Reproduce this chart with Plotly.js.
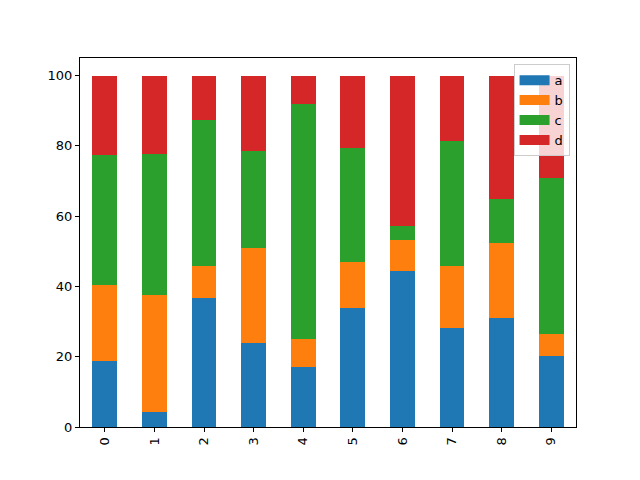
<!DOCTYPE html>
<html>
<head>
<meta charset="utf-8">
<script src="https://cdn.plot.ly/plotly-3.0.1.min.js"></script>
<style>html,body{margin:0;padding:0;background:#fff;}#chart{width:640px;height:480px;}</style>
</head>
<body>
<div id="chart"></div>
<script>
const categories = ['0','1','2','3','4','5','6','7','8','9'];
const seriesA = [18.75, 4.36, 36.74, 23.86, 17.05, 33.90, 44.41, 28.22, 31.06, 20.27];
const seriesB = [21.59, 33.14, 9.00, 27.09, 7.95, 13.07, 8.81, 17.61, 21.31, 6.25];
const seriesC = [36.93, 40.15, 41.57, 27.46, 66.86, 32.39, 3.98, 35.42, 12.40, 44.31];
const seriesD = [22.73, 22.35, 12.69, 21.59, 8.14, 20.64, 42.80, 18.75, 35.23, 29.17];
const names = ['a','b','c','d'];
const colors = ['#1f77b4','#ff7f0e','#2ca02c','#d62728'];
const allSeries = [seriesA, seriesB, seriesC, seriesD];

const traces = allSeries.map((vals, i) => ({
  type: 'bar',
  x: categories,
  y: vals,
  name: names[i],
  legendgroup: names[i],
  showlegend: false,
  marker: {color: colors[i], line: {width: 0}},
  hoverinfo: 'none'
}));

// legend-only entries drawn as wide patches, like matplotlib's legend handles
names.forEach((n, i) => {
  traces.push({
    type: 'scatter', mode: 'lines', x: [null], y: [null],
    name: n, legendgroup: n, showlegend: true,
    line: {color: colors[i], width: 10},
    hoverinfo: 'none'
  });
});

const axisCommon = {
  showline: true, mirror: true, linecolor: '#000', linewidth: 1,
  ticks: 'outside', ticklen: 4, tickwidth: 1, tickcolor: '#000',
  showgrid: false, zeroline: false,
  tickfont: {family: 'DejaVu Sans', size: 13, color: '#000'}
};

const layout = {
  width: 640, height: 480,
  margin: {l: 80, r: 64, t: 58, b: 53, pad: 0},
  paper_bgcolor: '#fff', plot_bgcolor: '#fff',
  barmode: 'stack',
  bargap: 0.5,
  showlegend: true,
  legend: {
    x: 0.987, y: 0.983, xanchor: 'right', yanchor: 'top',
    bgcolor: 'rgba(255,255,255,0.8)', bordercolor: '#cccccc', borderwidth: 1,
    font: {family: 'DejaVu Sans', size: 13, color: '#000'},
    traceorder: 'normal', itemwidth: 30, tracegroupgap: 0
  },
  xaxis: Object.assign({}, axisCommon, {
    type: 'category', range: [-0.5, 9.5], tickangle: -90
  }),
  yaxis: Object.assign({}, axisCommon, {
    range: [0, 105], tickvals: [0,20,40,60,80,100]
  })
};

Plotly.newPlot('chart', traces, layout, {displayModeBar: false, staticPlot: true});
</script>
</body>
</html>
